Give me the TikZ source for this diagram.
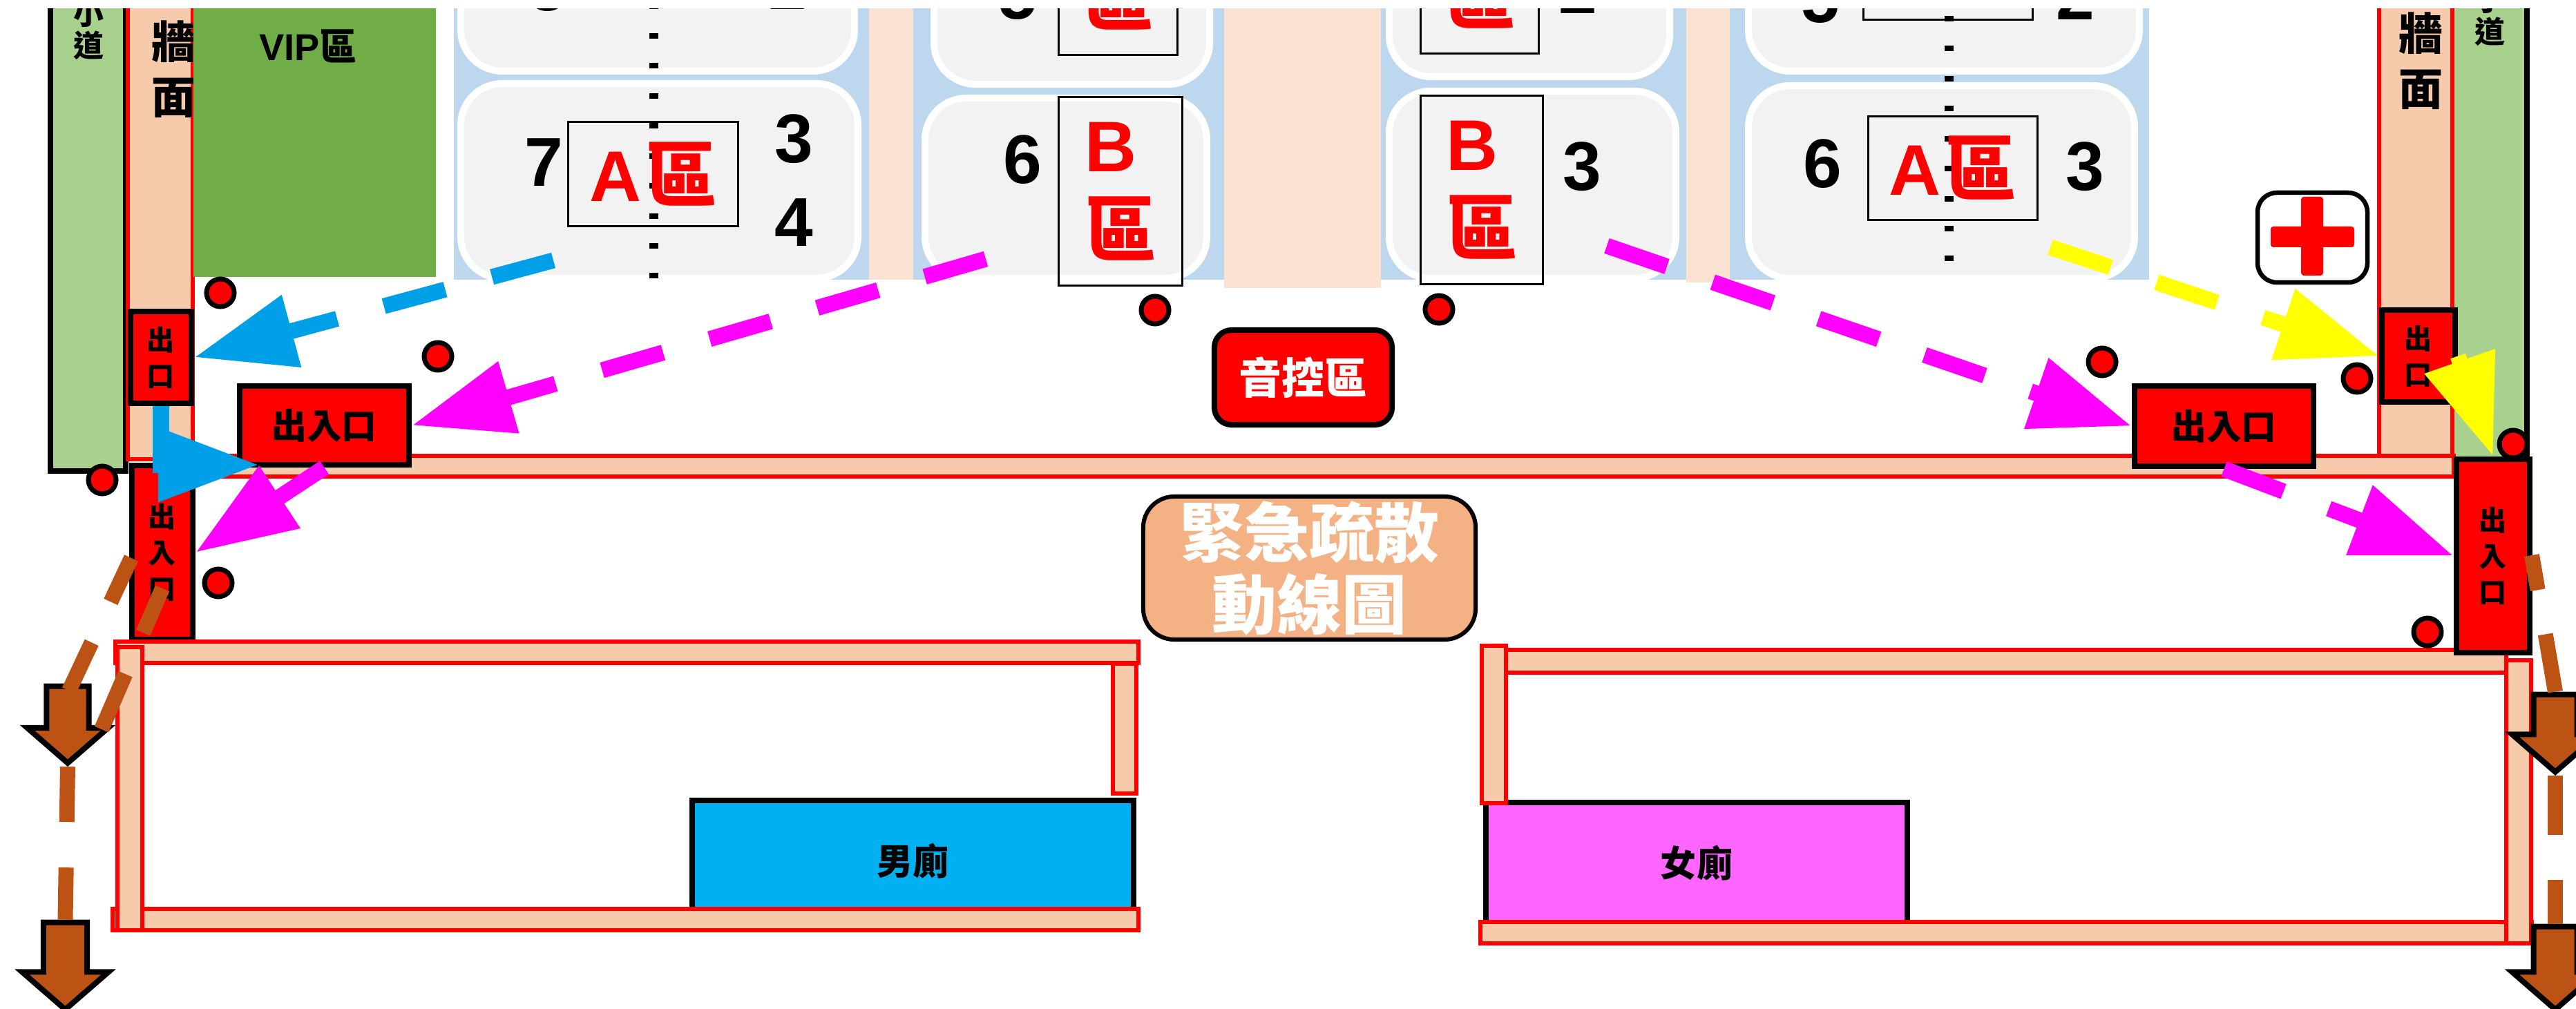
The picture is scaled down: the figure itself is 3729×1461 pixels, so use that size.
\documentclass[tikz,border=0pt]{standalone}
\usepackage{fontspec}
\setmainfont{Noto Sans CJK TC}
\newfontfamily\latfont{Liberation Sans}
\usepackage{tikz}
\usetikzlibrary{arrows.meta}
\usetikzlibrary{shapes.arrows}

\definecolor{pathgreen}{HTML}{A9D18E}
\definecolor{vipgreen}{HTML}{70AD47}
\definecolor{wallfill}{HTML}{F6CBAC}
\definecolor{seatblue}{HTML}{BDD7EE}
\definecolor{aislefill}{HTML}{FBE2D3}
\definecolor{seatgray}{HTML}{F2F2F2}
\definecolor{flowblue}{HTML}{00A0E9}
\definecolor{flowpink}{HTML}{FF00FF}
\definecolor{flowyellow}{HTML}{FFFF00}
\definecolor{flowbrown}{HTML}{BD5215}
\definecolor{titlefill}{HTML}{F4B183}
\definecolor{menfill}{HTML}{00B0F0}
\definecolor{womenfill}{HTML}{FF66FF}

\tikzset{
  wall/.style={draw=red, fill=wallfill, line width=.55mm},
  seatblock/.style={draw=white, fill=seatgray, line width=1mm, rounded corners=.6cm},
  seatdots/.style={draw=black, line width=1.3mm, dash pattern=on .8mm off 3.54mm},
  seatno/.style={inner sep=0pt, font=\latfont\bfseries\fontsize{28.45}{34}\selectfont},
  zonebox/.style={draw=black, line width=.3mm, inner sep=0pt, text=red, align=left,
    font=\bfseries\fontsize{29.5}{34.7}\selectfont},
  gatebox/.style={draw=black, fill=red, line width=.8mm, inner sep=0pt, align=center,
    font=\bfseries\fontsize{11.4}{14.8}\selectfont},
  wcbox/.style={draw=black, line width=.8mm, inner sep=0pt,
    font=\bfseries\fontsize{14.8}{18}\selectfont},
  spot/.style={circle, draw=black, fill=red, line width=.7mm, minimum size=.4cm, inner sep=0pt},
  flow/.style={line width=2.3mm, dash pattern=on 9.2mm off 7mm,
    -{Triangle[length=14.6mm,width=10.2mm]}},
  outflow/.style={draw=flowbrown, line width=2.2mm},
  outarrow/.style={single arrow, draw=black, fill=flowbrown, line width=.8mm, inner xsep=0pt,
    rotate=-90, single arrow tip angle=98}
}

\begin{document}
\begin{tikzpicture}[x=0.01cm, y=-0.01cm]

  \useasboundingbox (0,0) rectangle (3729,1461);
  \clip (0,13) rectangle (3729,1461);

  % side paths and walls
  \draw[draw=black, fill=pathgreen, line width=.7mm] (73,-20) rectangle (182,682);
  \fill[pathgreen] (3553,-20) rectangle (3655,665);
  \draw[black, line width=.8mm] (3658,-20) -- (3658,665);
  \draw[wall] (185,-20) rectangle (279,665);
  \draw[wall] (3444,-20) rectangle (3550,665);
  \node[inner sep=0pt, align=center, font=\bfseries\fontsize{12.5}{13.4}\selectfont] (pathL) at (128,43) {小\\道};
  \node[inner sep=0pt, align=center, font=\bfseries\fontsize{12.5}{13.4}\selectfont] (pathR) at (3604,23) {小\\道};
  \node[inner sep=0pt, align=center, font=\bfseries\fontsize{18.2}{22.8}\selectfont] (wallL) at (251,100) {牆\\面};
  \node[inner sep=0pt, align=center, font=\bfseries\fontsize{18.2}{22.8}\selectfont] (wallR) at (3504,88) {牆\\面};

  % VIP
  \fill[vipgreen] (280,-20) rectangle (631,401);
  \node[inner sep=0pt, font=\bfseries\fontsize{15.4}{18}\selectfont] (vip) at (446,67) {{\latfont VIP}區};

  % seat area
  \fill[seatblue] (657,-20) rectangle (1258,405);
  \fill[aislefill] (1258,-20) rectangle (1322,405);
  \fill[seatblue] (1322,-20) rectangle (1772,405);
  \fill[aislefill] (1772,-20) rectangle (1999,417);
  \fill[seatblue] (1999,-20) rectangle (2441,405);
  \fill[aislefill] (2441,-20) rectangle (2504,409);
  \fill[seatblue] (2504,-20) rectangle (3111,405);

  \draw[seatblock] (667,-200) rectangle (1237,103);
  \draw[seatblock] (667,121) rectangle (1242,403);
  \draw[seatblock] (1352,-200) rectangle (1751,122);
  \draw[seatblock] (1339,142) rectangle (1747,403);
  \draw[seatblock] (2011,-200) rectangle (2417,111);
  \draw[seatblock] (2011,132) rectangle (2426,403);
  \draw[seatblock] (2531,-200) rectangle (3097,103);
  \draw[seatblock] (2531,124) rectangle (3090,403);

  \draw[seatdots] (946,4.6) -- (946,405);
  \draw[seatdots] (2821,23) -- (2821,405);

  % zones
  \node[zonebox, minimum width=2.45cm, minimum height=1.5cm] (zoneAL) at (945.5,252) {{\latfont A}\kern.06em 區};
  \node[zonebox, minimum width=2.44cm, minimum height=1.49cm] (zoneAR) at (2827,243.5) {{\latfont A}\kern.06em 區};
  \node[zonebox, minimum width=2.44cm, minimum height=1.49cm] (zoneARup) at (2820,-46.5) {{\latfont A}\kern.06em 區};
  \node[zonebox, minimum width=1.78cm, minimum height=2.72cm] (zoneBL) at (1622,277) {{\latfont B}\\區};
  \node[zonebox, minimum width=1.71cm, minimum height=2.72cm] (zoneBLup) at (1618.5,-57) {{\latfont B}\\區};
  \node[zonebox, minimum width=1.76cm, minimum height=2.72cm] (zoneBR) at (2145,275) {{\latfont B}\\區};
  \node[zonebox, minimum width=1.70cm, minimum height=2.72cm] (zoneBRup) at (2142,-59) {{\latfont B}\\區};

  % seat numbers
  \node[seatno] (noA) at (787,235) {7};
  \node[seatno] (noB) at (1149,201) {3};
  \node[seatno] (noC) at (1149,322) {4};
  \node[seatno] (noD) at (793,-18) {5};
  \node[seatno] (noE) at (1140,-21) {2};
  \node[seatno] (noF) at (1480,231) {6};
  \node[seatno] (noG) at (1473,-6) {5};
  \node[seatno] (noH) at (2290,241) {3};
  \node[seatno] (noI) at (2284,-15) {2};
  \node[seatno] (noJ) at (2638,237) {6};
  \node[seatno] (noK) at (3018,241) {3};
  \node[seatno] (noL) at (2635,-1) {5};
  \node[seatno] (noM) at (3004,-6) {2};

  % long wall, left gate stays under the room walls
  \draw[wall] (283,660) rectangle (3552,690);
  \node[gatebox, minimum width=.88cm, minimum height=2.51cm] (gateD) at (235,800) {出\\入\\口};

  % left room
  \node[wcbox, fill=menfill, minimum width=6.39cm, minimum height=1.76cm] (men) at (1321.5,1247) {男廁};
  \draw[wall] (163,1316) rectangle (1648,1347);
  \draw[wall] (167,929) rectangle (1648,960);
  \draw[wall] (170,937) rectangle (206,1347);
  \draw[wall] (1611,961) rectangle (1645,1149);

  % right room
  \node[wcbox, fill=womenfill, minimum width=6.10cm, minimum height=1.76cm] (women) at (2456,1250) {女廁};
  \draw[wall] (2143,1335) rectangle (3665,1366);
  \draw[wall] (2178,941) rectangle (3628,974);
  \draw[wall] (2145,935) rectangle (2180,1163);
  \draw[wall] (3628,956) rectangle (3664,1366);

  % gates and desks
  \node[gatebox, minimum width=.88cm, minimum height=1.33cm] (exitL) at (233,517.5) {出\\口};
  \node[gatebox, minimum width=1.06cm, minimum height=1.33cm] (exitR) at (3501,515.5) {出\\口};
  \node[gatebox, minimum width=2.45cm, minimum height=1.14cm, font=\bfseries\fontsize{14.4}{17}\selectfont] (gateL) at (469.5,616) {出入口};
  \node[gatebox, minimum width=2.59cm, minimum height=1.16cm, font=\bfseries\fontsize{14.4}{17}\selectfont] (gateR) at (3219.5,617) {出入口};
  \node[gatebox, minimum width=1.06cm, minimum height=2.80cm] (gateE) at (3609,805) {出\\入\\口};
  \node[draw=black, fill=red, line width=.8mm, rounded corners=.25cm, inner sep=0pt, text=white,
    minimum width=2.57cm, minimum height=1.37cm, font=\bfseries\fontsize{17.6}{20}\selectfont] (sound) at (1886.5,546.5) {音控區};
  \node[draw=black, fill=titlefill, line width=.6mm, rounded corners=.45cm, inner sep=0pt, text=white, align=center,
    minimum width=4.81cm, minimum height=2.07cm, font=\bfseries\fontsize{26.7}{29.6}\selectfont] (title) at (1895.5,822.5) {緊急疏散\\動線圖};

  % first aid
  \draw[draw=black, fill=white, line width=.65mm, rounded corners=.28cm] (3268,279) rectangle (3427,409);
  \fill[red, rounded corners=.04cm] (3331,285) rectangle (3363,399);
  \fill[red, rounded corners=.04cm] (3287,328) rectangle (3408,358);

  % spots
  \node[spot] (spotA) at (319,424) {};
  \node[spot] (spotB) at (634,516) {};
  \node[spot] (spotC) at (148,695) {};
  \node[spot] (spotD) at (316,844) {};
  \node[spot] (spotE) at (1672,449) {};
  \node[spot] (spotF) at (2083,448) {};
  \node[spot] (spotG) at (3043,524) {};
  \node[spot] (spotH) at (3412,548) {};
  \node[spot] (spotI) at (3514,915) {};

  % flows
  \coordinate (blueStart) at (801,377);
  \coordinate (blueEnd) at (375,673);
  \coordinate (pinkLStart) at (1427,375);
  \coordinate (pinkRStart) at (2326,356);
  \coordinate (yellowStart) at (2968,358);

  \draw[flow, color=flowblue] (blueStart) -- (exitL.east);
  \draw[flow, color=flowblue] (exitL.south) |- (blueEnd);
  \draw[flow, color=flowpink] (pinkLStart) -- (gateL.east);
  \draw[flow, color=flowpink] (gateL.south) -- (gateD.east);
  \draw[flow, color=flowpink] (pinkRStart) -- (gateR.west);
  \draw[flow, color=flowpink] (gateR.south) -- (gateE.west);
  \draw[flow, color=flowyellow] (yellowStart) -- (exitR.west);
  \draw[flow, color=flowyellow] (exitR.east) -- (gateE.north);
  \node[spot] (spotJ) at (3638,643) {};

  % way out
  \node[outarrow, inner ysep=.265cm, single arrow head extend=.28cm, minimum height=1.11cm] (outA) at (98,1036) {};
  \node[outarrow, inner ysep=.275cm, single arrow head extend=.31cm, minimum height=1.26cm] (outB) at (94.5,1385) {};
  \node[outarrow, inner ysep=.275cm, single arrow head extend=.31cm, minimum height=1.12cm] (outC) at (3699,1048) {};
  \node[outarrow, inner ysep=.275cm, single arrow head extend=.31cm, minimum height=1.20cm] (outD) at (3699,1388) {};

  \coordinate (brownA) at (190,808);
  \coordinate (brownAend) at (100,1000);
  \coordinate (brownB) at (235,852);
  \coordinate (brownBend) at (147,1056);
  \coordinate (brownC) at (3665,804);

  \draw[outflow, dash pattern=on 7mm off 6.5mm on 9mm off 0mm] (brownA) -- (brownAend);
  \draw[outflow, dash pattern=on 7mm off 6.5mm on 9mm off 0mm] (brownB) -- (brownBend);
  \draw[outflow, dash pattern=on 8mm off 6.6mm] (outA.tip) -- (outB.tail);
  \draw[outflow, dash pattern=on 8.6mm off 6.5mm, dash phase=3.5mm] (brownC) -- (outC.tail);
  \draw[outflow, dash pattern=on 8.6mm off 6.5mm] (outC.tip) -- (outD.tail);

\end{tikzpicture}
\end{document}
